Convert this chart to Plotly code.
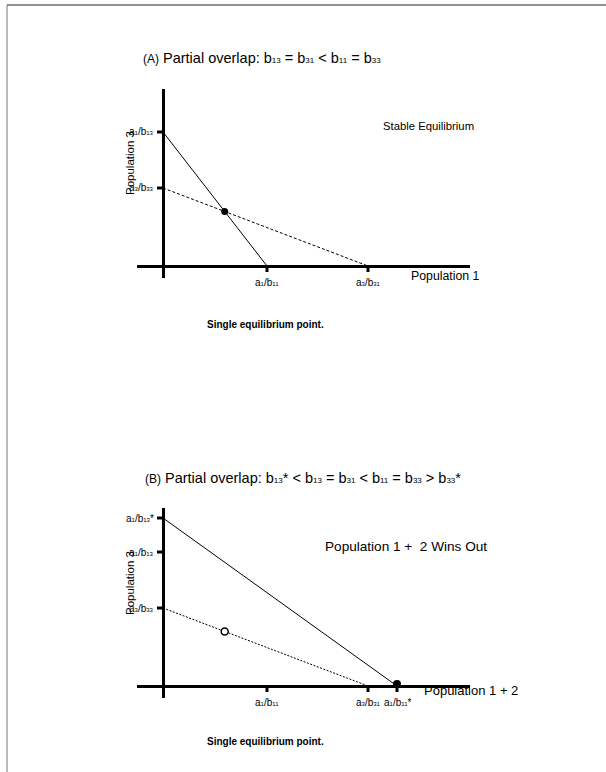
import plotly.graph_objects as go

W, H = 606, 772
FONT = "Liberation Sans, Arial, sans-serif"


def s(t, size):
    return f'<span style="font-size:{size}px">{t}</span>'


def tl(a, b, star=""):
    # tick label like a1/b11 with tiny baseline subscripts
    return "a" + s(a, 6) + "/b" + s(b, 6) + star


# ---------------- data ----------------
# Panel A
a_xticks = [104, 205]
a_xtick_labels = [tl("1", "11"), tl("3", "31")]
a_yticks = [134, 78]
a_ytick_labels = [tl("1", "13"), tl("3", "33")]
a_iso1_x = [0, 104]
a_iso1_y = [134, 0]
a_iso3_x = [0, 205]
a_iso3_y = [78, 0]

# Panel B
b_xticks = [104, 205, 234]
b_xtick_labels = [tl("1", "11"), tl("3", "31"), tl("1", "11", "*")]
b_yticks = [168, 134, 78]
b_ytick_labels = [tl("1", "13", "*"), tl("1", "13"), tl("3", "33")]
b_iso12_x = [0, 234]
b_iso12_y = [168, 0]
b_iso3_x = [0, 205]
b_iso3_y = [78, 0]


def intersect(x1, y1, x2, y2):
    m1 = (y1[1] - y1[0]) / (x1[1] - x1[0])
    m2 = (y2[1] - y2[0]) / (x2[1] - x2[0])
    xi = (y2[0] - y1[0]) / (m1 - m2)
    return xi, y1[0] + m1 * xi


eqA = intersect(a_iso1_x, a_iso1_y, a_iso3_x, a_iso3_y)
eqB_old = eqA
eqB_new = (b_iso12_x[1], b_iso12_y[1])


def px(x):
    return x / W


def py(y):
    return 1 - y / H


fig = go.Figure()

# Panel A traces
fig.add_trace(go.Scatter(x=a_iso1_x, y=a_iso1_y, mode="lines",
                         line=dict(color="black", width=1), xaxis="x", yaxis="y"))
fig.add_trace(go.Scatter(x=a_iso3_x, y=a_iso3_y, mode="lines",
                         line=dict(color="black", width=1, dash="3px,2px"), xaxis="x", yaxis="y"))
fig.add_trace(go.Scatter(x=[eqA[0]], y=[eqA[1]], mode="markers",
                         marker=dict(color="black", size=7), xaxis="x", yaxis="y"))

# Panel B traces
fig.add_trace(go.Scatter(x=b_iso12_x, y=b_iso12_y, mode="lines",
                         line=dict(color="black", width=1), xaxis="x2", yaxis="y2"))
fig.add_trace(go.Scatter(x=b_iso3_x, y=b_iso3_y, mode="lines",
                         line=dict(color="black", width=1, dash="2px,1.5px"), xaxis="x2", yaxis="y2"))
fig.add_trace(go.Scatter(x=[eqB_old[0]], y=[eqB_old[1]], mode="markers",
                         marker=dict(color="white", size=7, symbol="circle",
                                     line=dict(color="black", width=1.5)),
                         xaxis="x2", yaxis="y2"))
fig.add_trace(go.Scatter(x=[eqB_new[0]], y=[eqB_new[1] + 2], mode="markers",
                         marker=dict(color="black", size=8), xaxis="x2", yaxis="y2"))

shapes = []
annotations = []


def add_ticks(xr, yr, xticks, xlabels, yticks, ylabels):
    for t, lab in zip(xticks, xlabels):
        shapes.append(dict(type="line", xref=xr, yref=yr, x0=t, x1=t,
                           ysizemode="pixel", yanchor=0, y0=0, y1=-6,
                           line=dict(color="black", width=3)))
        annotations.append(dict(xref=xr, yref=yr, x=t, y=0, yshift=-16,
                                text=lab, showarrow=False, xanchor="center",
                                yanchor="middle",
                                font=dict(family=FONT, size=10, color="black")))
    for t, lab in zip(yticks, ylabels):
        shapes.append(dict(type="line", xref=xr, yref=yr, y0=t, y1=t,
                           xsizemode="pixel", xanchor=0, x0=-6, x1=0,
                           line=dict(color="black", width=3)))
        annotations.append(dict(xref=xr, yref=yr, x=0, y=t, xshift=-7,
                                text=lab, showarrow=False, xanchor="right",
                                yanchor="middle",
                                font=dict(family=FONT, size=10, color="black")))


add_ticks("x", "y", a_xticks, a_xtick_labels, a_yticks, a_ytick_labels)
add_ticks("x2", "y2", b_xticks, b_xtick_labels, b_yticks, b_ytick_labels)


def note(text, x, y, size=12, anchor="left", angle=0):
    annotations.append(dict(xref="paper", yref="paper", x=px(x), y=py(y),
                            text=text, showarrow=False, xanchor=anchor,
                            yanchor="middle", textangle=angle,
                            font=dict(family=FONT, size=size, color="black")))


def b(n):
    return "b" + s(n, 8)


note(s("(A)", 12) + " Partial overlap: " + b("13") + " = " + b("31") + " &lt; " + b("11") + " = " + b("33"),
     141, 58, size=14.5)
note(s("(B)", 12) + " Partial overlap: " + b("13") + "* &lt; " + b("13") + " = " + b("31") + " &lt; "
     + b("11") + " = " + b("33") + " &gt; " + b("33") + "*",
     143, 478, size=14.5)
note("Stable Equilibrium", 381, 126, size=11.3)
note("Population 1 +  2 Wins Out", 323, 546, size=13.6)
note("Population 1", 409, 276, size=12.3)
note("Population 1 + 2", 422, 690, size=13)
note("<b>Single equilibrium point.</b>", 205, 325, size=10)
note("<b>Single equilibrium point.</b>", 205, 741, size=10)
note("Population 3", 130, 163, size=11.5, anchor="center", angle=-90)
note("Population 3", 130, 583, size=11.5, anchor="center", angle=-90)

# page border (top and left)
shapes.append(dict(type="line", xref="paper", yref="paper", x0=px(7), x1=1,
                   y0=py(5), y1=py(5), line=dict(color="#222", width=1)))
shapes.append(dict(type="line", xref="paper", yref="paper", x0=px(7), x1=px(7),
                   y0=py(5), y1=0, line=dict(color="#777", width=1)))

axis_common = dict(showgrid=False, showticklabels=False, ticks="", showline=False,
                   zeroline=True, zerolinecolor="black", zerolinewidth=3, fixedrange=True)

fig.update_layout(
    width=W, height=H,
    margin=dict(l=0, r=0, t=0, b=0),
    paper_bgcolor="white", plot_bgcolor="white",
    showlegend=False, hovermode=False,
    xaxis=dict(domain=[px(137), px(470)], range=[-26, 307], anchor="y", **axis_common),
    yaxis=dict(domain=[py(278), py(89)], range=[-12, 177], anchor="x", **axis_common),
    xaxis2=dict(domain=[px(137), px(470)], range=[-26, 307], anchor="y2", **axis_common),
    yaxis2=dict(domain=[py(698), py(508)], range=[-12, 178], anchor="x2", **axis_common),
    shapes=shapes,
    annotations=annotations,
)

fig.write_html("out.html")
